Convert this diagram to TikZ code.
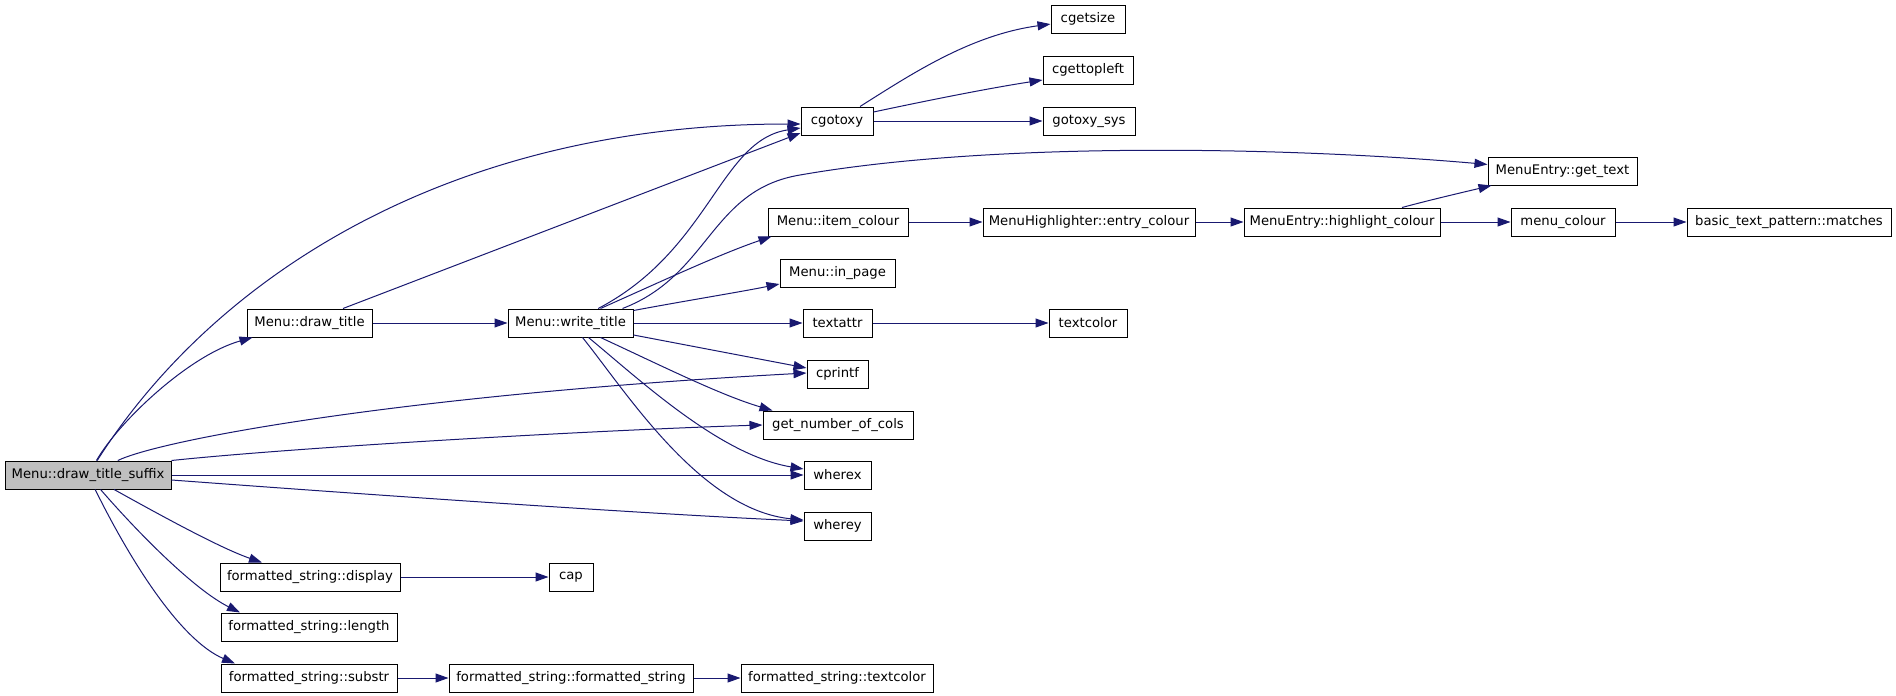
\documentclass[tikz,border=0pt]{standalone}
\usepackage{fontspec}
\setmainfont{DejaVu Sans}
\usetikzlibrary{arrows.meta,calc}
\definecolor{edgec}{HTML}{191970}
\definecolor{rootfill}{HTML}{BFBFBF}
\begin{document}
\begin{tikzpicture}[x=0.5pt,y=-0.5pt,
  fn/.style={draw=black,line width=0.5pt,fill=white,minimum height=14pt,inner sep=0pt,font=\fontsize{6.6}{8}\selectfont},
  root/.style={fn,fill=rootfill},
  call/.style={draw=edgec,line width=0.5pt,-{Triangle[length=6.5pt,width=4.5pt]},fill=none}]
\useasboundingbox[fill=white] (0,0) rectangle (1896,696);

% nodes
\node[root,minimum width=83pt]   (dts)  at (88,475)    {Menu::draw\_title\_suffix};
\node[fn,minimum width=62.5pt]   (dt)   at (309.5,323) {Menu::draw\_title};
\node[fn,minimum width=62.5pt]   (wt)   at (570.5,323) {Menu::write\_title};
\node[fn,minimum width=36pt]     (cgotoxy) at (837,121) {cgotoxy};
\node[fn,minimum width=37pt]     (cgetsize) at (1088,19) {cgetsize};
\node[fn,minimum width=45pt]     (cgettopleft) at (1088,70) {cgettopleft};
\node[fn,minimum width=46pt]     (gotoxysys) at (1089,121) {gotoxy\_sys};
\node[fn,minimum width=74.5pt]   (gettext) at (1562.5,171) {MenuEntry::get\_text};
\node[fn,minimum width=70pt]     (itemcolour) at (838,222) {Menu::item\_colour};
\node[fn,minimum width=106pt]    (entrycolour) at (1089,222) {MenuHighlighter::entry\_colour};
\node[fn,minimum width=98pt]     (hc) at (1342,222) {MenuEntry::highlight\_colour};
\node[fn,minimum width=52pt]     (menucolour) at (1563,222) {menu\_colour};
\node[fn,minimum width=102pt]    (matches) at (1789,222) {basic\_text\_pattern::matches};
\node[fn,minimum width=57.5pt]   (inpage) at (837.5,273) {Menu::in\_page};
\node[fn,minimum width=34.5pt]   (textattr) at (837.5,323) {textattr};
\node[fn,minimum width=39pt]     (textcolor) at (1088,323) {textcolor};
\node[fn,minimum width=30.5pt]   (cprintf) at (837.5,374) {cprintf};
\node[fn,minimum width=75pt]     (gnoc) at (838,425) {get\_number\_of\_cols};
\node[fn,minimum width=33.5pt]   (wherex) at (837.5,475) {wherex};
\node[fn,minimum width=33.5pt]   (wherey) at (837.5,526) {wherey};
\node[fn,minimum width=90pt]     (display) at (310,577) {formatted\_string::display};
\node[fn,minimum width=22pt]     (cap) at (571,577) {cap};
\node[fn,minimum width=88pt]     (length) at (309,627) {formatted\_string::length};
\node[fn,minimum width=88pt]     (substr) at (309,678) {formatted\_string::substr};
\node[fn,minimum width=122pt]    (fsfs) at (571,678) {formatted\_string::formatted\_string};
\node[fn,minimum width=96pt]     (fstc) at (837,678) {formatted\_string::textcolor};

% edges from Menu::draw_title_suffix
\draw[call] (dts) .. controls (215,275) and (451,124) .. ($(cgotoxy.west)+(0,3)$);
\draw[call] (dts) .. controls (120,420) and (190,355) .. ($(dt.south west)+(6,0)$);
\draw[call] (dts) .. controls (160,440) and (400,395) .. ($(cprintf.west)+(0,-1)$);
\draw[call] (dts.north east) .. controls (300,447) and (600,430) .. (gnoc.west);
\draw[call] (dts) -- (wherex);
\draw[call] ($(dts.east)+(0,5)$) .. controls (400,497) and (650,514) .. ($(wherey.west)+(0,-5)$);
\draw[call] (dts) .. controls (160,515) and (220,548) .. ($(display.north)+(-48,0)$);
\draw[call] (dts) .. controls (140,535) and (195,590) .. ($(length.north)+(-69,0)$);
\draw[call] (dts) .. controls (130,560) and (180,640) .. ($(substr.north)+(-74,0)$);

% edges from Menu::draw_title
\draw[call] ($(dt.north)+(33.5,0)$) -- ($(cgotoxy.west)+(0,12)$);
\draw[call] (dt) -- (wt);

% edges from Menu::write_title
\draw[call] (wt) .. controls (710,250) and (720,140) .. ($(cgotoxy.west)+(0,7)$);
\draw[call] ($(wt.north)+(52,0)$) .. controls (710,275) and (710,190) .. (800,175) .. controls (1000,140) and (1300,148) .. (gettext);
\draw[call] ($(wt.north)+(30,0)$) .. controls (660,282) and (720,254) .. ($(itemcolour.south west)+(4,0)$);
\draw[call] ($(wt.north east)+(0,2)$) .. controls (690,300) and (740,292) .. ($(inpage.west)+(0,11)$);
\draw[call] (wt) -- (textattr);
\draw[call] ($(wt.east)+(0,12)$) -- ($(cprintf.west)+(0,-6)$);
\draw[call] ($(wt.south)+(30,0)$) .. controls (660,365) and (720,395) .. ($(gnoc.north west)+(10,0)$);
\draw[call] ($(wt.south)+(18,0)$) .. controls (640,380) and (720,455) .. ($(wherex.west)+(0,-6)$);
\draw[call] ($(wt.south)+(12,0)$) .. controls (625,390) and (700,510) .. ($(wherey.west)+(0,-6)$);

% edges from cgotoxy
\draw[call] (cgotoxy) .. controls (910,75) and (970,35) .. (cgetsize);
\draw[call] ($(cgotoxy.east)+(0,-9)$) .. controls (930,100) and (990,88) .. ($(cgettopleft.west)+(0,10)$);
\draw[call] (cgotoxy) -- (gotoxysys);

% chains
\draw[call] (itemcolour) -- (entrycolour);
\draw[call] (entrycolour) -- (hc);
\draw[call] ($(hc.north)+(60,0)$) .. controls (1430,200) and (1460,193) .. ($(gettext.south west)+(4,0)$);
\draw[call] (hc) -- (menucolour);
\draw[call] (menucolour) -- (matches);
\draw[call] (textattr) -- (textcolor);
\draw[call] (display) -- (cap);
\draw[call] (substr) -- (fsfs);
\draw[call] (fsfs) -- (fstc);
\end{tikzpicture}
\end{document}
